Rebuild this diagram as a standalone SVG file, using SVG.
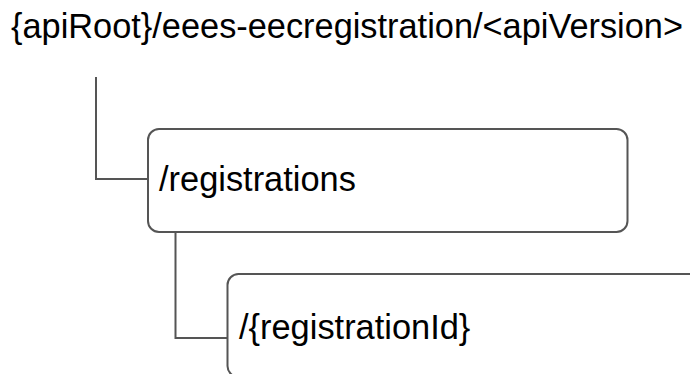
<svg xmlns="http://www.w3.org/2000/svg" width="690" height="374" viewBox="0 0 690 374">
  <style>
    .box { fill: #ffffff; stroke: #555555; stroke-width: 2; }
    .conn { fill: none; stroke: #555555; stroke-width: 2; }
    .lbl { font-family: "Liberation Sans", Arial, sans-serif; font-size: 34.4px; fill: #000000; }
  </style>
  <rect width="690" height="374" fill="#ffffff"/>
  <g id="root">
    <text class="lbl" x="11" y="37.5" textLength="672" lengthAdjust="spacingAndGlyphs">{apiRoot}/eees-eecregistration/&lt;apiVersion&gt;</text>
  </g>
  <g id="connectors">
    <path class="conn" d="M96,77 V179 H148"/>
    <path class="conn" d="M175.5,232 V338 H227.5"/>
  </g>
  <g id="registrations">
    <rect class="box" x="148" y="129" width="479.5" height="103" rx="11" ry="11"/>
    <text class="lbl" x="159" y="191">/registrations</text>
  </g>
  <g id="registrationId">
    <rect class="box" x="227.5" y="274" width="479.5" height="103" rx="11" ry="11"/>
    <text class="lbl" x="239" y="339">/{registrationId}</text>
  </g>
</svg>
